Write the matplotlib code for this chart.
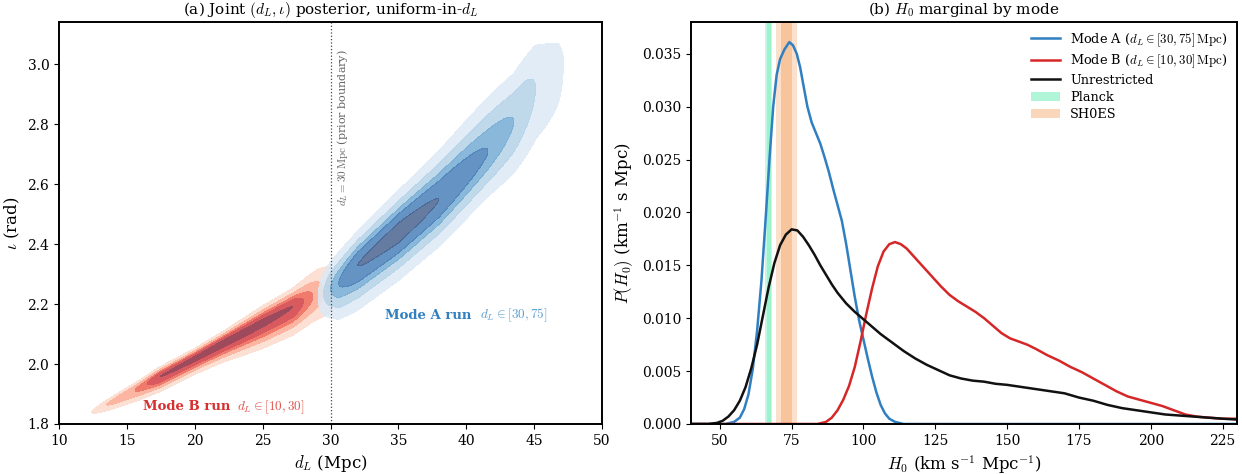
import numpy as np
import matplotlib.pyplot as plt
from matplotlib.patches import Patch
from matplotlib.lines import Line2D

plt.rcParams['font.family'] = 'DejaVu Serif'
plt.rcParams['mathtext.fontset'] = 'cm'

# =========================
# Panel (a): posterior ridges for each mode
# (d_L knots, ridge iota, width above / below ridge, peak weight)
# =========================
b_dl = [12.0, 12.4, 13.5, 15.6, 16.5, 17.4, 20.0, 22.0, 25.0, 27.2, 28.0, 28.7, 29.5, 30.0]
b_iota = [1.83, 1.84, 1.865, 1.913, 1.935, 1.957, 2.019, 2.068, 2.139, 2.191, 2.21, 2.225, 2.24, 2.25]
b_sig_up = [0.005, 0.006, 0.009, 0.012, 0.013, 0.014, 0.014, 0.016, 0.023, 0.026, 0.032, 0.040, 0.050, 0.058]
b_sig_dn = [0.007, 0.009, 0.013, 0.019, 0.020, 0.021, 0.022, 0.026, 0.036, 0.040, 0.041, 0.041, 0.048, 0.058]
b_amp = [0.0, 0.05, 0.19, 0.39, 0.575, 0.865, 0.96, 1.0, 0.95, 0.865, 0.575, 0.39, 0.19, 0.12]

a_dl = [28.8, 29.1, 29.5, 30.0, 30.6, 32.0, 35.0, 38.0, 41.6, 43.5, 45.1, 46.8, 47.6]
a_iota = [2.22, 2.225, 2.235, 2.25, 2.27, 2.33, 2.44, 2.55, 2.71, 2.81, 2.92, 3.0, 3.02]
a_sig_up = [0.034, 0.036, 0.042, 0.045, 0.047, 0.048, 0.057, 0.068, 0.082, 0.079, 0.088, 0.064, 0.054]
a_sig_dn = [0.032, 0.038, 0.045, 0.046, 0.055, 0.063, 0.066, 0.066, 0.068, 0.085, 0.104, 0.118, 0.108]
a_amp = [0.0, 0.05, 0.19, 0.39, 0.575, 0.865, 1.0, 0.865, 0.575, 0.39, 0.19, 0.09, 0.0]

levels = [0.05, 0.19, 0.39, 0.575, 0.865, 1.01]
reds = ["#fde0d4", "#fbb5a0", "#f07b6c", "#d85a5e", "#9c4a5c"]
blues = ["#dde9f6", "#b4d3e8", "#74acd4", "#4a80ba", "#4a6590"]

# =========================
# Panel (b): H0 marginals
# =========================
h_a = [40, 52, 55, 57, 58.5, 60, 61.5, 63, 64.5, 66, 67.3, 68.6, 69.8, 71, 72.5, 74.2, 75.5,
       76.8, 78, 79, 80.5, 82, 83.5, 85, 86.5, 88, 89.5, 91, 92.5, 94, 95.5, 97, 98.5, 100,
       101.5, 103, 104.5, 106, 107.5, 109, 111, 114, 230]
p_a = [0.0, 0.0, 0.0002, 0.0006, 0.0014, 0.0028, 0.0052, 0.0088, 0.0135, 0.0195, 0.0250,
       0.0300, 0.0330, 0.0345, 0.0354, 0.0361, 0.0358, 0.0350, 0.0337, 0.0322, 0.0300, 0.0285,
       0.0275, 0.0265, 0.0252, 0.0238, 0.0222, 0.0207, 0.0192, 0.0170, 0.0145, 0.0120, 0.0098,
       0.0080, 0.0062, 0.0045, 0.0030, 0.0018, 0.0010, 0.0005, 0.0002, 0.0, 0.0]

h_b = [40, 84, 87, 89, 91, 93, 95, 97, 99, 101, 103, 105, 107, 109, 111, 113, 115, 118, 121,
       124, 127, 130, 133, 136, 139, 142, 145, 148, 151, 154, 157, 160, 164, 168, 172, 176, 180,
       184, 188, 192, 196, 200, 204, 208, 212, 216, 220, 225, 231]
p_b = [0.0, 0.0, 0.0002, 0.0006, 0.0013, 0.0023, 0.0036, 0.0054, 0.0078, 0.0104, 0.0128,
       0.0149, 0.0163, 0.0170, 0.0172, 0.0170, 0.0166, 0.0157, 0.0148, 0.0139, 0.0130, 0.0122,
       0.0116, 0.0111, 0.0106, 0.0100, 0.0093, 0.0086, 0.0081, 0.0078, 0.0075, 0.0071, 0.0065,
       0.0060, 0.0054, 0.0049, 0.0043, 0.0037, 0.0031, 0.0026, 0.0023, 0.0020, 0.0017, 0.0013,
       0.0009, 0.0007, 0.0006, 0.0005, 0.0005]

h_all = [40, 46, 49, 51, 53, 55, 57, 59, 61, 63, 65, 67, 69, 71, 73, 75, 77, 79, 81, 83, 85,
         87, 89, 91, 94, 97, 100, 103, 106, 110, 114, 118, 122, 126, 130, 134, 138, 142, 146,
         150, 155, 160, 165, 170, 175, 180, 185, 190, 195, 200, 205, 210, 215, 220, 225, 231]
p_all = [0.0, 0.0, 0.0001, 0.0003, 0.0007, 0.0013, 0.0022, 0.0035, 0.0053, 0.0075, 0.0102,
         0.0129, 0.0152, 0.0169, 0.0179, 0.0184, 0.0183, 0.0177, 0.0169, 0.0160, 0.0150, 0.0141,
         0.0132, 0.0124, 0.0114, 0.0106, 0.0099, 0.0092, 0.0085, 0.0077, 0.0069, 0.0062, 0.0056,
         0.0051, 0.0046, 0.0043, 0.0041, 0.0040, 0.0038, 0.0037, 0.0035, 0.0033, 0.0031, 0.0029,
         0.0025, 0.0022, 0.0018, 0.0015, 0.0013, 0.0011, 0.0009, 0.0008, 0.0007, 0.0006, 0.0005,
         0.0004]

planck_mu, planck_sig = 67.1, 0.6
shoes_mu, shoes_sig = 73.2, 1.8

fig = plt.figure(figsize=(12.42, 4.74), dpi=100)
ax1 = fig.add_axes([59 / 1242, 0.1055, 543 / 1242, 0.848])
ax2 = fig.add_axes([691 / 1242, 0.1055, 546 / 1242, 0.848])

# ---- (a) joint posterior
D, I = np.meshgrid(np.linspace(10, 50, 700), np.linspace(1.8, np.pi, 600))

def ridge_density(dl, iota, sig_up, sig_dn, amp, dmin, dmax):
    c = np.interp(D, dl, iota)
    s = np.where(I >= c, np.interp(D, dl, sig_up), np.interp(D, dl, sig_dn))
    a = np.interp(D, dl, amp, left=0.0, right=0.0)
    z = a * np.exp(-0.5 * ((I - c) / s) ** 2)
    z[(D < dmin) | (D > dmax)] = 0.0
    return z

zb = ridge_density(b_dl, b_iota, b_sig_up, b_sig_dn, b_amp, 10, 30)
za = ridge_density(a_dl, a_iota, a_sig_up, a_sig_dn, a_amp, 25, 50)

ax1.contourf(D, I, zb, levels=levels, colors=reds)
ax1.contourf(D, I, za, levels=levels, colors=blues, alpha=0.85)

ax1.axvline(30, color="#444444", ls=":", lw=0.9)
ax1.text(30.35, 3.05, r"$d_L = 30\,\mathrm{Mpc}$ (prior boundary)", rotation=90,
         ha="left", va="top", fontsize=8, color="#666666")

ax1.text(16.2, 1.857, "Mode B run", color="#d62f2f", fontweight="bold", fontsize=9.5, va="center")
ax1.text(23.1, 1.857, r"$d_L \in [10, 30]$", color="#e0504a", fontsize=9.5, va="center")
ax1.text(34.0, 2.163, "Mode A run", color="#2f7fc1", fontweight="bold", fontsize=9.5, va="center")
ax1.text(41.0, 2.163, r"$d_L \in [30, 75]$", color="#5a9fd0", fontsize=9.5, va="center")

ax1.set_xlim(10, 50)
ax1.set_ylim(1.8, np.pi)
ax1.set_xlabel(r"$d_L$ (Mpc)", fontsize=12)
ax1.set_ylabel(r"$\iota$ (rad)", fontsize=12)
ax1.set_title(r"(a) Joint $(d_L, \iota)$ posterior, uniform-in-$d_L$", fontsize=11)

# ---- (b) H0 marginals
green, orange = "#3ee8a0", "#f39a55"
ax2.axvspan(planck_mu - 2 * planck_sig, planck_mu + 2 * planck_sig, color=green, alpha=0.3, lw=0)
ax2.axvspan(planck_mu - planck_sig, planck_mu + planck_sig, color=green, alpha=0.3, lw=0)
ax2.axvspan(shoes_mu - 2 * shoes_sig, shoes_mu + 2 * shoes_sig, color=orange, alpha=0.3, lw=0)
ax2.axvspan(shoes_mu - shoes_sig, shoes_mu + shoes_sig, color=orange, alpha=0.4, lw=0)

ax2.plot(h_a, p_a, color="#2f7fc1", lw=1.8)
ax2.plot(h_b, p_b, color="#d62728", lw=1.8)
ax2.plot(h_all, p_all, color="#111111", lw=1.8)

handles = [
    Line2D([], [], color="#2f7fc1", lw=1.8, label=r"Mode A ($d_L \in [30, 75]\,\mathrm{Mpc}$)"),
    Line2D([], [], color="#d62728", lw=1.8, label=r"Mode B ($d_L \in [10, 30]\,\mathrm{Mpc}$)"),
    Line2D([], [], color="#111111", lw=1.8, label="Unrestricted"),
    Patch(facecolor=green, alpha=0.4, label="Planck"),
    Patch(facecolor=orange, alpha=0.4, label="SH0ES"),
]
ax2.legend(handles=handles, loc="upper right", frameon=False, fontsize=9.3,
           handlelength=2.2, borderaxespad=0.3, labelspacing=0.3)

ax2.set_xlim(40, 230)
ax2.set_ylim(0, 0.038)
ax2.set_xlabel(r"$H_0$ (km s$^{-1}$ Mpc$^{-1}$)", fontsize=12)
ax2.set_ylabel(r"$P(H_0)$ (km$^{-1}$ s Mpc)", fontsize=12)
ax2.set_title(r"(b) $H_0$ marginal by mode", fontsize=11)

for ax in (ax1, ax2):
    for sp in ax.spines.values():
        sp.set_linewidth(1.4)
    ax.tick_params(labelsize=10)

fig.savefig("out.png", dpi=100)
